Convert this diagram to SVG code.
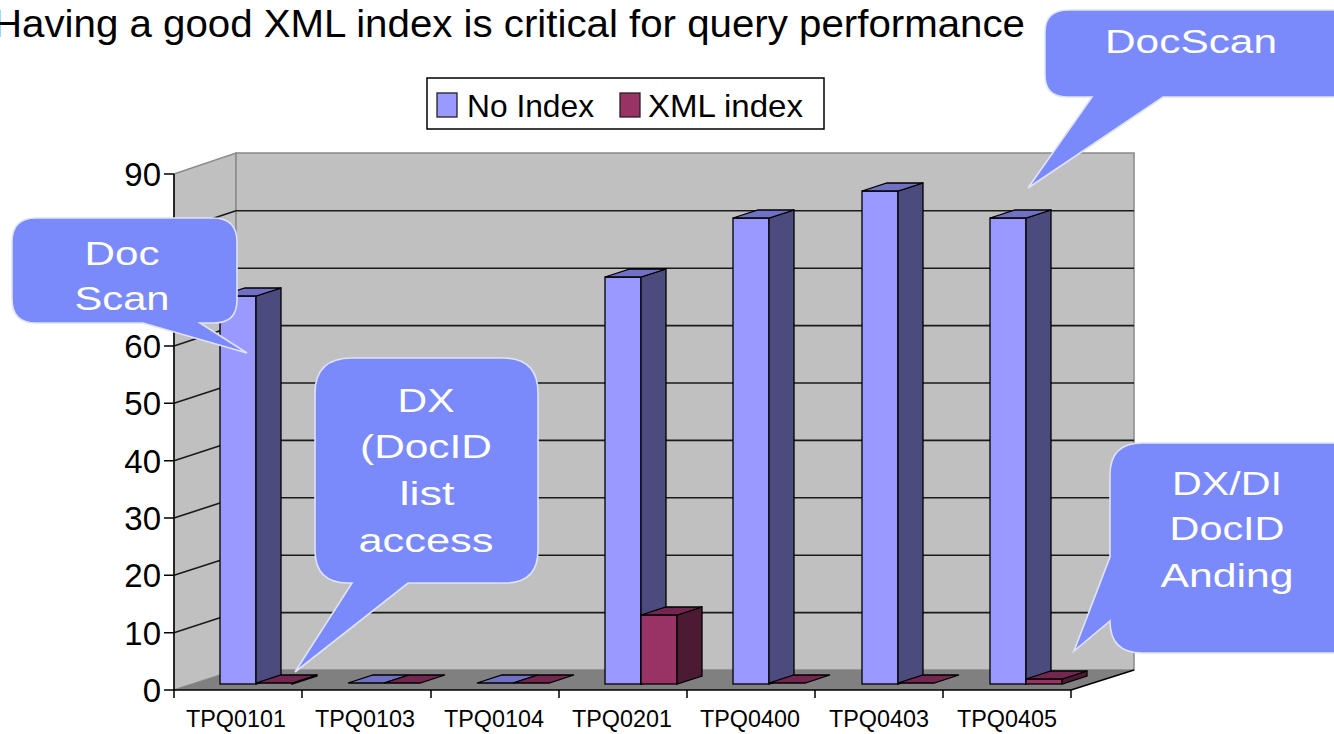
<svg xmlns="http://www.w3.org/2000/svg" width="1334" height="734" viewBox="0 0 1334 734">
<style>
text{font-family:"Liberation Sans",Arial,sans-serif;fill:#000}
.wall{fill:#c0c0c0;stroke:#8a8a8a;stroke-width:1.5}
.grid{stroke:#1a1a1a;stroke-width:1.6;fill:none}
.ax{stroke:#000;stroke-width:1.5;fill:none}
.ylab{font-size:33px;text-anchor:end}
.xlab{font-size:24px;text-anchor:middle}
.niF{fill:#9999ff;stroke:#000;stroke-width:1.3}
.niS{fill:#4b4b7d;stroke:#000;stroke-width:1.3}
.niT{fill:#7070c4;stroke:#000;stroke-width:1.3}
.xF{fill:#993366;stroke:#000;stroke-width:1.3}
.xS{fill:#4d1a33;stroke:#000;stroke-width:1.3}
.xT{fill:#742650;stroke:#000;stroke-width:1.3}
.call{fill:#7a8afa;stroke:#dfe3ff;stroke-width:1.6}
.ct{font-size:33px;fill:#fff;text-anchor:middle}
</style>
<rect width="1334" height="734" fill="#fff"/>
<g id="chart-walls">
<polygon class="wall" points="174,174 236,153 236,670 174,690"/>
<rect class="wall" x="236" y="153" width="898" height="517"/>
</g>
<g id="gridlines">
<path class="grid" d="M236,612.6H1134M236,555.2H1134M236,497.8H1134M236,440.4H1134M236,383H1134M236,325.6H1134M236,268.2H1134M236,210.8H1134"/>
<path class="grid" d="M174,632.7L236,612.6M174,575.3L236,555.2M174,518L236,497.8M174,460.7L236,440.4M174,403.3L236,383M174,346L236,325.6M174,288.7L236,268.2M174,231.3L236,210.8"/>
</g>
<g id="floor">
<polygon points="174,690 236,670 1134,670 1071,690" fill="#808080"/>
<path class="ax" d="M1071,690L1134,670"/>
</g>
<g id="bars">
<g id="bar-TPQ0101">
<rect class="niF" x="220" y="296" width="36" height="388"/>
<polygon class="niS" points="256,296 281,288 281,676 256,684"/>
<polygon class="niT" points="220,296 245,288 281,288 256,296"/>
<polygon class="xS" points="292,683 317,675 317,676 292,684"/>
<polygon class="xT" points="256,683 281,675 317,675 292,683"/>
</g>
<g id="bar-TPQ0103">
<polygon class="niT" points="348,683 373,675 409,675 384,683"/>
<polygon class="xT" points="384,683 409,675 445,675 420,683"/>
</g>
<g id="bar-TPQ0104">
<polygon class="niT" points="477,683 502,675 538,675 513,683"/>
<polygon class="xT" points="513,683 538,675 574,675 549,683"/>
</g>
<g id="bar-TPQ0201">
<rect class="niF" x="605" y="277" width="36" height="407"/>
<polygon class="niS" points="641,277 666,269 666,676 641,684"/>
<polygon class="niT" points="605,277 630,269 666,269 641,277"/>
<rect class="xF" x="641" y="615" width="36" height="69"/>
<polygon class="xS" points="677,615 702,607 702,676 677,684"/>
<polygon class="xT" points="641,615 666,607 702,607 677,615"/>
</g>
<g id="bar-TPQ0400">
<rect class="niF" x="733" y="218" width="36" height="466"/>
<polygon class="niS" points="769,218 794,210 794,676 769,684"/>
<polygon class="niT" points="733,218 758,210 794,210 769,218"/>
<polygon class="xT" points="769,683 794,675 830,675 805,683"/>
</g>
<g id="bar-TPQ0403">
<rect class="niF" x="862" y="191" width="36" height="493"/>
<polygon class="niS" points="898,191 923,183 923,676 898,684"/>
<polygon class="niT" points="862,191 887,183 923,183 898,191"/>
<polygon class="xT" points="898,683 923,675 959,675 934,683"/>
</g>
<g id="bar-TPQ0405">
<rect class="niF" x="990" y="218" width="36" height="466"/>
<polygon class="niS" points="1026,218 1051,210 1051,676 1026,684"/>
<polygon class="niT" points="990,218 1015,210 1051,210 1026,218"/>
<rect class="xF" x="1026" y="679" width="36" height="5"/>
<polygon class="xS" points="1062,679 1087,671 1087,676 1062,684"/>
<polygon class="xT" points="1026,679 1051,671 1087,671 1062,679"/>
</g>
</g>
<g id="axes">
<path class="ax" d="M174,174V690H1071"/>
<path class="ax" d="M164,690H174M164,632.7H174M164,575.3H174M164,518H174M164,460.7H174M164,403.3H174M164,346H174M164,288.7H174M164,231.3H174M164,174H174"/>
<path class="ax" d="M174,690V698M302,690V698M431,690V698M559,690V698M687,690V698M815,690V698M943,690V698M1071,690V698"/>
<text class="ylab" x="161" y="702">0</text>
<text class="ylab" x="161" y="645">10</text>
<text class="ylab" x="161" y="587">20</text>
<text class="ylab" x="161" y="530">30</text>
<text class="ylab" x="161" y="473">40</text>
<text class="ylab" x="161" y="415">50</text>
<text class="ylab" x="161" y="358">60</text>
<text class="ylab" x="161" y="186">90</text>
<text class="xlab" x="236" y="727" textLength="100" lengthAdjust="spacingAndGlyphs">TPQ0101</text>
<text class="xlab" x="365" y="727" textLength="100" lengthAdjust="spacingAndGlyphs">TPQ0103</text>
<text class="xlab" x="494" y="727" textLength="100" lengthAdjust="spacingAndGlyphs">TPQ0104</text>
<text class="xlab" x="622" y="727" textLength="100" lengthAdjust="spacingAndGlyphs">TPQ0201</text>
<text class="xlab" x="750" y="727" textLength="100" lengthAdjust="spacingAndGlyphs">TPQ0400</text>
<text class="xlab" x="879" y="727" textLength="100" lengthAdjust="spacingAndGlyphs">TPQ0403</text>
<text class="xlab" x="1007" y="727" textLength="100" lengthAdjust="spacingAndGlyphs">TPQ0405</text>
</g>
<g id="legend">
<rect x="427" y="78" width="397" height="51" fill="#fff" stroke="#000" stroke-width="1.5"/>
<rect x="437" y="93" width="20" height="24" fill="#9999ff" stroke="#222" stroke-width="1.3"/>
<text x="467" y="117" font-size="32" textLength="127" lengthAdjust="spacingAndGlyphs">No Index</text>
<rect x="620" y="93" width="20" height="24" fill="#993366" stroke="#222" stroke-width="1.3"/>
<text x="648" y="117" font-size="32" textLength="155" lengthAdjust="spacingAndGlyphs">XML index</text>
</g>
<g id="title">
<text x="-7" y="37" font-size="38" textLength="1032" lengthAdjust="spacingAndGlyphs">Having a good XML index is critical for query performance</text>
</g>
<g id="callout-docscan-top">
<path class="call" d="M1069,10H1345V97H1163L1028,188L1092,97H1067Q1045,97 1045,75V32Q1045,10 1069,10Z"/>
<text class="ct" x="1191" y="53" textLength="172" lengthAdjust="spacingAndGlyphs">DocScan</text>
</g>
<g id="callout-docscan-left">
<path class="call" d="M36,218H213Q237,218 237,242V300Q237,323 214,323H200L247,353L143,323H36Q12,323 12,299V242Q12,218 36,218Z"/>
<text class="ct" x="122" y="265" textLength="75" lengthAdjust="spacingAndGlyphs">Doc</text>
<text class="ct" x="122" y="310" textLength="95" lengthAdjust="spacingAndGlyphs">Scan</text>
</g>
<g id="callout-dx">
<path class="call" d="M352,358H503Q538,358 538,393V550Q538,583 505,583H408L295,672L352,583H348Q315,583 315,550V393Q315,358 352,358Z"/>
<text class="ct" x="426" y="412" textLength="57" lengthAdjust="spacingAndGlyphs">DX</text>
<text class="ct" x="426" y="458" textLength="132" lengthAdjust="spacingAndGlyphs">(DocID</text>
<text class="ct" x="427" y="505" textLength="55" lengthAdjust="spacingAndGlyphs">list</text>
<text class="ct" x="426" y="552" textLength="135" lengthAdjust="spacingAndGlyphs">access</text>
</g>
<g id="callout-dxdi">
<path class="call" d="M1142,443H1345V653H1142Q1110,653 1110,621L1074,651L1110,557V475Q1110,443 1142,443Z"/>
<text class="ct" x="1227" y="495" textLength="110" lengthAdjust="spacingAndGlyphs">DX/DI</text>
<text class="ct" x="1227" y="540" textLength="115" lengthAdjust="spacingAndGlyphs">DocID</text>
<text class="ct" x="1227" y="587" textLength="133" lengthAdjust="spacingAndGlyphs">Anding</text>
</g>
</svg>
